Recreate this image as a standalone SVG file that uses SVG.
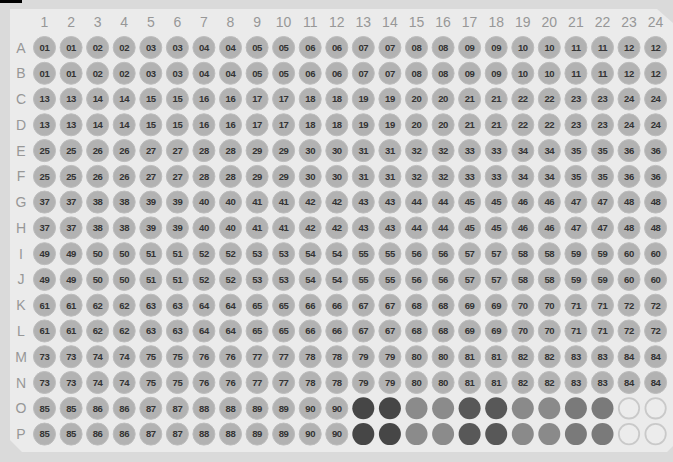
<svg xmlns="http://www.w3.org/2000/svg" width="673" height="462" viewBox="0 0 673 462">
<style>
.w{fill:#b2b2b2;stroke:#bdbdbd;stroke-width:1}
.t{font-family:"Liberation Sans",Arial,sans-serif;font-size:9.5px;font-weight:bold;fill:#333;text-anchor:middle;letter-spacing:-0.4px}
.lb{font-family:"Liberation Sans",Arial,sans-serif;font-size:14px;fill:#979797;text-anchor:middle}
.d1{fill:#464646}.m1{fill:#8b8b8b}.d2{fill:#585858}.m2{fill:#8a8a8a}.m3{fill:#7a7a7a}
.e{fill:#ececec;stroke:#c9c9c9;stroke-width:1.8}
</style>
<rect x="0" y="0" width="673" height="462" fill="#dadada"/>
<polygon points="10,9 657,9 673,23 673,446 667,452 22,452 10,440" fill="#ebebeb"/>
<rect x="0" y="0" width="22" height="3" fill="#000"/>
<g id="col-labels">
<text class="lb" x="44.5" y="27">1</text><text class="lb" x="71.1" y="27">2</text><text class="lb" x="97.6" y="27">3</text><text class="lb" x="124.2" y="27">4</text><text class="lb" x="150.8" y="27">5</text><text class="lb" x="177.4" y="27">6</text><text class="lb" x="203.9" y="27">7</text><text class="lb" x="230.5" y="27">8</text><text class="lb" x="257.1" y="27">9</text><text class="lb" x="283.6" y="27">10</text><text class="lb" x="310.2" y="27">11</text><text class="lb" x="336.8" y="27">12</text><text class="lb" x="363.3" y="27">13</text><text class="lb" x="389.9" y="27">14</text><text class="lb" x="416.5" y="27">15</text><text class="lb" x="443.1" y="27">16</text><text class="lb" x="469.6" y="27">17</text><text class="lb" x="496.2" y="27">18</text><text class="lb" x="522.8" y="27">19</text><text class="lb" x="549.3" y="27">20</text><text class="lb" x="575.9" y="27">21</text><text class="lb" x="602.5" y="27">22</text><text class="lb" x="629" y="27">23</text><text class="lb" x="655.6" y="27">24</text>
</g>
<g id="row-labels">
<text class="lb" x="21" y="52.5">A</text><text class="lb" x="21" y="78.3">B</text><text class="lb" x="21" y="104">C</text><text class="lb" x="21" y="129.8">D</text><text class="lb" x="21" y="155.6">E</text><text class="lb" x="21" y="181.4">F</text><text class="lb" x="21" y="207.1">G</text><text class="lb" x="21" y="232.9">H</text><text class="lb" x="21" y="258.7">I</text><text class="lb" x="21" y="284.4">J</text><text class="lb" x="21" y="310.2">K</text><text class="lb" x="21" y="336">L</text><text class="lb" x="21" y="361.7">M</text><text class="lb" x="21" y="387.5">N</text><text class="lb" x="21" y="413.3">O</text><text class="lb" x="21" y="439.1">P</text>
</g>
<g id="connectors"></g>
<g id="row-A" transform="translate(0 47.5)">
<g id="A1" transform="translate(44.5)"><circle class="w" r="11"/><text class="t" y="3.3">01</text></g>
<g id="A2" transform="translate(71.1)"><circle class="w" r="11"/><text class="t" y="3.3">01</text></g>
<g id="A3" transform="translate(97.6)"><circle class="w" r="11"/><text class="t" y="3.3">02</text></g>
<g id="A4" transform="translate(124.2)"><circle class="w" r="11"/><text class="t" y="3.3">02</text></g>
<g id="A5" transform="translate(150.8)"><circle class="w" r="11"/><text class="t" y="3.3">03</text></g>
<g id="A6" transform="translate(177.4)"><circle class="w" r="11"/><text class="t" y="3.3">03</text></g>
<g id="A7" transform="translate(203.9)"><circle class="w" r="11"/><text class="t" y="3.3">04</text></g>
<g id="A8" transform="translate(230.5)"><circle class="w" r="11"/><text class="t" y="3.3">04</text></g>
<g id="A9" transform="translate(257.1)"><circle class="w" r="11"/><text class="t" y="3.3">05</text></g>
<g id="A10" transform="translate(283.6)"><circle class="w" r="11"/><text class="t" y="3.3">05</text></g>
<g id="A11" transform="translate(310.2)"><circle class="w" r="11"/><text class="t" y="3.3">06</text></g>
<g id="A12" transform="translate(336.8)"><circle class="w" r="11"/><text class="t" y="3.3">06</text></g>
<g id="A13" transform="translate(363.3)"><circle class="w" r="11"/><text class="t" y="3.3">07</text></g>
<g id="A14" transform="translate(389.9)"><circle class="w" r="11"/><text class="t" y="3.3">07</text></g>
<g id="A15" transform="translate(416.5)"><circle class="w" r="11"/><text class="t" y="3.3">08</text></g>
<g id="A16" transform="translate(443.1)"><circle class="w" r="11"/><text class="t" y="3.3">08</text></g>
<g id="A17" transform="translate(469.6)"><circle class="w" r="11"/><text class="t" y="3.3">09</text></g>
<g id="A18" transform="translate(496.2)"><circle class="w" r="11"/><text class="t" y="3.3">09</text></g>
<g id="A19" transform="translate(522.8)"><circle class="w" r="11"/><text class="t" y="3.3">10</text></g>
<g id="A20" transform="translate(549.3)"><circle class="w" r="11"/><text class="t" y="3.3">10</text></g>
<g id="A21" transform="translate(575.9)"><circle class="w" r="11"/><text class="t" y="3.3">11</text></g>
<g id="A22" transform="translate(602.5)"><circle class="w" r="11"/><text class="t" y="3.3">11</text></g>
<g id="A23" transform="translate(629)"><circle class="w" r="11"/><text class="t" y="3.3">12</text></g>
<g id="A24" transform="translate(655.6)"><circle class="w" r="11"/><text class="t" y="3.3">12</text></g>
</g>
<g id="row-B" transform="translate(0 73.3)">
<g id="B1" transform="translate(44.5)"><circle class="w" r="11"/><text class="t" y="3.3">01</text></g>
<g id="B2" transform="translate(71.1)"><circle class="w" r="11"/><text class="t" y="3.3">01</text></g>
<g id="B3" transform="translate(97.6)"><circle class="w" r="11"/><text class="t" y="3.3">02</text></g>
<g id="B4" transform="translate(124.2)"><circle class="w" r="11"/><text class="t" y="3.3">02</text></g>
<g id="B5" transform="translate(150.8)"><circle class="w" r="11"/><text class="t" y="3.3">03</text></g>
<g id="B6" transform="translate(177.4)"><circle class="w" r="11"/><text class="t" y="3.3">03</text></g>
<g id="B7" transform="translate(203.9)"><circle class="w" r="11"/><text class="t" y="3.3">04</text></g>
<g id="B8" transform="translate(230.5)"><circle class="w" r="11"/><text class="t" y="3.3">04</text></g>
<g id="B9" transform="translate(257.1)"><circle class="w" r="11"/><text class="t" y="3.3">05</text></g>
<g id="B10" transform="translate(283.6)"><circle class="w" r="11"/><text class="t" y="3.3">05</text></g>
<g id="B11" transform="translate(310.2)"><circle class="w" r="11"/><text class="t" y="3.3">06</text></g>
<g id="B12" transform="translate(336.8)"><circle class="w" r="11"/><text class="t" y="3.3">06</text></g>
<g id="B13" transform="translate(363.3)"><circle class="w" r="11"/><text class="t" y="3.3">07</text></g>
<g id="B14" transform="translate(389.9)"><circle class="w" r="11"/><text class="t" y="3.3">07</text></g>
<g id="B15" transform="translate(416.5)"><circle class="w" r="11"/><text class="t" y="3.3">08</text></g>
<g id="B16" transform="translate(443.1)"><circle class="w" r="11"/><text class="t" y="3.3">08</text></g>
<g id="B17" transform="translate(469.6)"><circle class="w" r="11"/><text class="t" y="3.3">09</text></g>
<g id="B18" transform="translate(496.2)"><circle class="w" r="11"/><text class="t" y="3.3">09</text></g>
<g id="B19" transform="translate(522.8)"><circle class="w" r="11"/><text class="t" y="3.3">10</text></g>
<g id="B20" transform="translate(549.3)"><circle class="w" r="11"/><text class="t" y="3.3">10</text></g>
<g id="B21" transform="translate(575.9)"><circle class="w" r="11"/><text class="t" y="3.3">11</text></g>
<g id="B22" transform="translate(602.5)"><circle class="w" r="11"/><text class="t" y="3.3">11</text></g>
<g id="B23" transform="translate(629)"><circle class="w" r="11"/><text class="t" y="3.3">12</text></g>
<g id="B24" transform="translate(655.6)"><circle class="w" r="11"/><text class="t" y="3.3">12</text></g>
</g>
<g id="row-C" transform="translate(0 99)">
<g id="C1" transform="translate(44.5)"><circle class="w" r="11"/><text class="t" y="3.3">13</text></g>
<g id="C2" transform="translate(71.1)"><circle class="w" r="11"/><text class="t" y="3.3">13</text></g>
<g id="C3" transform="translate(97.6)"><circle class="w" r="11"/><text class="t" y="3.3">14</text></g>
<g id="C4" transform="translate(124.2)"><circle class="w" r="11"/><text class="t" y="3.3">14</text></g>
<g id="C5" transform="translate(150.8)"><circle class="w" r="11"/><text class="t" y="3.3">15</text></g>
<g id="C6" transform="translate(177.4)"><circle class="w" r="11"/><text class="t" y="3.3">15</text></g>
<g id="C7" transform="translate(203.9)"><circle class="w" r="11"/><text class="t" y="3.3">16</text></g>
<g id="C8" transform="translate(230.5)"><circle class="w" r="11"/><text class="t" y="3.3">16</text></g>
<g id="C9" transform="translate(257.1)"><circle class="w" r="11"/><text class="t" y="3.3">17</text></g>
<g id="C10" transform="translate(283.6)"><circle class="w" r="11"/><text class="t" y="3.3">17</text></g>
<g id="C11" transform="translate(310.2)"><circle class="w" r="11"/><text class="t" y="3.3">18</text></g>
<g id="C12" transform="translate(336.8)"><circle class="w" r="11"/><text class="t" y="3.3">18</text></g>
<g id="C13" transform="translate(363.3)"><circle class="w" r="11"/><text class="t" y="3.3">19</text></g>
<g id="C14" transform="translate(389.9)"><circle class="w" r="11"/><text class="t" y="3.3">19</text></g>
<g id="C15" transform="translate(416.5)"><circle class="w" r="11"/><text class="t" y="3.3">20</text></g>
<g id="C16" transform="translate(443.1)"><circle class="w" r="11"/><text class="t" y="3.3">20</text></g>
<g id="C17" transform="translate(469.6)"><circle class="w" r="11"/><text class="t" y="3.3">21</text></g>
<g id="C18" transform="translate(496.2)"><circle class="w" r="11"/><text class="t" y="3.3">21</text></g>
<g id="C19" transform="translate(522.8)"><circle class="w" r="11"/><text class="t" y="3.3">22</text></g>
<g id="C20" transform="translate(549.3)"><circle class="w" r="11"/><text class="t" y="3.3">22</text></g>
<g id="C21" transform="translate(575.9)"><circle class="w" r="11"/><text class="t" y="3.3">23</text></g>
<g id="C22" transform="translate(602.5)"><circle class="w" r="11"/><text class="t" y="3.3">23</text></g>
<g id="C23" transform="translate(629)"><circle class="w" r="11"/><text class="t" y="3.3">24</text></g>
<g id="C24" transform="translate(655.6)"><circle class="w" r="11"/><text class="t" y="3.3">24</text></g>
</g>
<g id="row-D" transform="translate(0 124.8)">
<g id="D1" transform="translate(44.5)"><circle class="w" r="11"/><text class="t" y="3.3">13</text></g>
<g id="D2" transform="translate(71.1)"><circle class="w" r="11"/><text class="t" y="3.3">13</text></g>
<g id="D3" transform="translate(97.6)"><circle class="w" r="11"/><text class="t" y="3.3">14</text></g>
<g id="D4" transform="translate(124.2)"><circle class="w" r="11"/><text class="t" y="3.3">14</text></g>
<g id="D5" transform="translate(150.8)"><circle class="w" r="11"/><text class="t" y="3.3">15</text></g>
<g id="D6" transform="translate(177.4)"><circle class="w" r="11"/><text class="t" y="3.3">15</text></g>
<g id="D7" transform="translate(203.9)"><circle class="w" r="11"/><text class="t" y="3.3">16</text></g>
<g id="D8" transform="translate(230.5)"><circle class="w" r="11"/><text class="t" y="3.3">16</text></g>
<g id="D9" transform="translate(257.1)"><circle class="w" r="11"/><text class="t" y="3.3">17</text></g>
<g id="D10" transform="translate(283.6)"><circle class="w" r="11"/><text class="t" y="3.3">17</text></g>
<g id="D11" transform="translate(310.2)"><circle class="w" r="11"/><text class="t" y="3.3">18</text></g>
<g id="D12" transform="translate(336.8)"><circle class="w" r="11"/><text class="t" y="3.3">18</text></g>
<g id="D13" transform="translate(363.3)"><circle class="w" r="11"/><text class="t" y="3.3">19</text></g>
<g id="D14" transform="translate(389.9)"><circle class="w" r="11"/><text class="t" y="3.3">19</text></g>
<g id="D15" transform="translate(416.5)"><circle class="w" r="11"/><text class="t" y="3.3">20</text></g>
<g id="D16" transform="translate(443.1)"><circle class="w" r="11"/><text class="t" y="3.3">20</text></g>
<g id="D17" transform="translate(469.6)"><circle class="w" r="11"/><text class="t" y="3.3">21</text></g>
<g id="D18" transform="translate(496.2)"><circle class="w" r="11"/><text class="t" y="3.3">21</text></g>
<g id="D19" transform="translate(522.8)"><circle class="w" r="11"/><text class="t" y="3.3">22</text></g>
<g id="D20" transform="translate(549.3)"><circle class="w" r="11"/><text class="t" y="3.3">22</text></g>
<g id="D21" transform="translate(575.9)"><circle class="w" r="11"/><text class="t" y="3.3">23</text></g>
<g id="D22" transform="translate(602.5)"><circle class="w" r="11"/><text class="t" y="3.3">23</text></g>
<g id="D23" transform="translate(629)"><circle class="w" r="11"/><text class="t" y="3.3">24</text></g>
<g id="D24" transform="translate(655.6)"><circle class="w" r="11"/><text class="t" y="3.3">24</text></g>
</g>
<g id="row-E" transform="translate(0 150.6)">
<g id="E1" transform="translate(44.5)"><circle class="w" r="11"/><text class="t" y="3.3">25</text></g>
<g id="E2" transform="translate(71.1)"><circle class="w" r="11"/><text class="t" y="3.3">25</text></g>
<g id="E3" transform="translate(97.6)"><circle class="w" r="11"/><text class="t" y="3.3">26</text></g>
<g id="E4" transform="translate(124.2)"><circle class="w" r="11"/><text class="t" y="3.3">26</text></g>
<g id="E5" transform="translate(150.8)"><circle class="w" r="11"/><text class="t" y="3.3">27</text></g>
<g id="E6" transform="translate(177.4)"><circle class="w" r="11"/><text class="t" y="3.3">27</text></g>
<g id="E7" transform="translate(203.9)"><circle class="w" r="11"/><text class="t" y="3.3">28</text></g>
<g id="E8" transform="translate(230.5)"><circle class="w" r="11"/><text class="t" y="3.3">28</text></g>
<g id="E9" transform="translate(257.1)"><circle class="w" r="11"/><text class="t" y="3.3">29</text></g>
<g id="E10" transform="translate(283.6)"><circle class="w" r="11"/><text class="t" y="3.3">29</text></g>
<g id="E11" transform="translate(310.2)"><circle class="w" r="11"/><text class="t" y="3.3">30</text></g>
<g id="E12" transform="translate(336.8)"><circle class="w" r="11"/><text class="t" y="3.3">30</text></g>
<g id="E13" transform="translate(363.3)"><circle class="w" r="11"/><text class="t" y="3.3">31</text></g>
<g id="E14" transform="translate(389.9)"><circle class="w" r="11"/><text class="t" y="3.3">31</text></g>
<g id="E15" transform="translate(416.5)"><circle class="w" r="11"/><text class="t" y="3.3">32</text></g>
<g id="E16" transform="translate(443.1)"><circle class="w" r="11"/><text class="t" y="3.3">32</text></g>
<g id="E17" transform="translate(469.6)"><circle class="w" r="11"/><text class="t" y="3.3">33</text></g>
<g id="E18" transform="translate(496.2)"><circle class="w" r="11"/><text class="t" y="3.3">33</text></g>
<g id="E19" transform="translate(522.8)"><circle class="w" r="11"/><text class="t" y="3.3">34</text></g>
<g id="E20" transform="translate(549.3)"><circle class="w" r="11"/><text class="t" y="3.3">34</text></g>
<g id="E21" transform="translate(575.9)"><circle class="w" r="11"/><text class="t" y="3.3">35</text></g>
<g id="E22" transform="translate(602.5)"><circle class="w" r="11"/><text class="t" y="3.3">35</text></g>
<g id="E23" transform="translate(629)"><circle class="w" r="11"/><text class="t" y="3.3">36</text></g>
<g id="E24" transform="translate(655.6)"><circle class="w" r="11"/><text class="t" y="3.3">36</text></g>
</g>
<g id="row-F" transform="translate(0 176.4)">
<g id="F1" transform="translate(44.5)"><circle class="w" r="11"/><text class="t" y="3.3">25</text></g>
<g id="F2" transform="translate(71.1)"><circle class="w" r="11"/><text class="t" y="3.3">25</text></g>
<g id="F3" transform="translate(97.6)"><circle class="w" r="11"/><text class="t" y="3.3">26</text></g>
<g id="F4" transform="translate(124.2)"><circle class="w" r="11"/><text class="t" y="3.3">26</text></g>
<g id="F5" transform="translate(150.8)"><circle class="w" r="11"/><text class="t" y="3.3">27</text></g>
<g id="F6" transform="translate(177.4)"><circle class="w" r="11"/><text class="t" y="3.3">27</text></g>
<g id="F7" transform="translate(203.9)"><circle class="w" r="11"/><text class="t" y="3.3">28</text></g>
<g id="F8" transform="translate(230.5)"><circle class="w" r="11"/><text class="t" y="3.3">28</text></g>
<g id="F9" transform="translate(257.1)"><circle class="w" r="11"/><text class="t" y="3.3">29</text></g>
<g id="F10" transform="translate(283.6)"><circle class="w" r="11"/><text class="t" y="3.3">29</text></g>
<g id="F11" transform="translate(310.2)"><circle class="w" r="11"/><text class="t" y="3.3">30</text></g>
<g id="F12" transform="translate(336.8)"><circle class="w" r="11"/><text class="t" y="3.3">30</text></g>
<g id="F13" transform="translate(363.3)"><circle class="w" r="11"/><text class="t" y="3.3">31</text></g>
<g id="F14" transform="translate(389.9)"><circle class="w" r="11"/><text class="t" y="3.3">31</text></g>
<g id="F15" transform="translate(416.5)"><circle class="w" r="11"/><text class="t" y="3.3">32</text></g>
<g id="F16" transform="translate(443.1)"><circle class="w" r="11"/><text class="t" y="3.3">32</text></g>
<g id="F17" transform="translate(469.6)"><circle class="w" r="11"/><text class="t" y="3.3">33</text></g>
<g id="F18" transform="translate(496.2)"><circle class="w" r="11"/><text class="t" y="3.3">33</text></g>
<g id="F19" transform="translate(522.8)"><circle class="w" r="11"/><text class="t" y="3.3">34</text></g>
<g id="F20" transform="translate(549.3)"><circle class="w" r="11"/><text class="t" y="3.3">34</text></g>
<g id="F21" transform="translate(575.9)"><circle class="w" r="11"/><text class="t" y="3.3">35</text></g>
<g id="F22" transform="translate(602.5)"><circle class="w" r="11"/><text class="t" y="3.3">35</text></g>
<g id="F23" transform="translate(629)"><circle class="w" r="11"/><text class="t" y="3.3">36</text></g>
<g id="F24" transform="translate(655.6)"><circle class="w" r="11"/><text class="t" y="3.3">36</text></g>
</g>
<g id="row-G" transform="translate(0 202.1)">
<g id="G1" transform="translate(44.5)"><circle class="w" r="11"/><text class="t" y="3.3">37</text></g>
<g id="G2" transform="translate(71.1)"><circle class="w" r="11"/><text class="t" y="3.3">37</text></g>
<g id="G3" transform="translate(97.6)"><circle class="w" r="11"/><text class="t" y="3.3">38</text></g>
<g id="G4" transform="translate(124.2)"><circle class="w" r="11"/><text class="t" y="3.3">38</text></g>
<g id="G5" transform="translate(150.8)"><circle class="w" r="11"/><text class="t" y="3.3">39</text></g>
<g id="G6" transform="translate(177.4)"><circle class="w" r="11"/><text class="t" y="3.3">39</text></g>
<g id="G7" transform="translate(203.9)"><circle class="w" r="11"/><text class="t" y="3.3">40</text></g>
<g id="G8" transform="translate(230.5)"><circle class="w" r="11"/><text class="t" y="3.3">40</text></g>
<g id="G9" transform="translate(257.1)"><circle class="w" r="11"/><text class="t" y="3.3">41</text></g>
<g id="G10" transform="translate(283.6)"><circle class="w" r="11"/><text class="t" y="3.3">41</text></g>
<g id="G11" transform="translate(310.2)"><circle class="w" r="11"/><text class="t" y="3.3">42</text></g>
<g id="G12" transform="translate(336.8)"><circle class="w" r="11"/><text class="t" y="3.3">42</text></g>
<g id="G13" transform="translate(363.3)"><circle class="w" r="11"/><text class="t" y="3.3">43</text></g>
<g id="G14" transform="translate(389.9)"><circle class="w" r="11"/><text class="t" y="3.3">43</text></g>
<g id="G15" transform="translate(416.5)"><circle class="w" r="11"/><text class="t" y="3.3">44</text></g>
<g id="G16" transform="translate(443.1)"><circle class="w" r="11"/><text class="t" y="3.3">44</text></g>
<g id="G17" transform="translate(469.6)"><circle class="w" r="11"/><text class="t" y="3.3">45</text></g>
<g id="G18" transform="translate(496.2)"><circle class="w" r="11"/><text class="t" y="3.3">45</text></g>
<g id="G19" transform="translate(522.8)"><circle class="w" r="11"/><text class="t" y="3.3">46</text></g>
<g id="G20" transform="translate(549.3)"><circle class="w" r="11"/><text class="t" y="3.3">46</text></g>
<g id="G21" transform="translate(575.9)"><circle class="w" r="11"/><text class="t" y="3.3">47</text></g>
<g id="G22" transform="translate(602.5)"><circle class="w" r="11"/><text class="t" y="3.3">47</text></g>
<g id="G23" transform="translate(629)"><circle class="w" r="11"/><text class="t" y="3.3">48</text></g>
<g id="G24" transform="translate(655.6)"><circle class="w" r="11"/><text class="t" y="3.3">48</text></g>
</g>
<g id="row-H" transform="translate(0 227.9)">
<g id="H1" transform="translate(44.5)"><circle class="w" r="11"/><text class="t" y="3.3">37</text></g>
<g id="H2" transform="translate(71.1)"><circle class="w" r="11"/><text class="t" y="3.3">37</text></g>
<g id="H3" transform="translate(97.6)"><circle class="w" r="11"/><text class="t" y="3.3">38</text></g>
<g id="H4" transform="translate(124.2)"><circle class="w" r="11"/><text class="t" y="3.3">38</text></g>
<g id="H5" transform="translate(150.8)"><circle class="w" r="11"/><text class="t" y="3.3">39</text></g>
<g id="H6" transform="translate(177.4)"><circle class="w" r="11"/><text class="t" y="3.3">39</text></g>
<g id="H7" transform="translate(203.9)"><circle class="w" r="11"/><text class="t" y="3.3">40</text></g>
<g id="H8" transform="translate(230.5)"><circle class="w" r="11"/><text class="t" y="3.3">40</text></g>
<g id="H9" transform="translate(257.1)"><circle class="w" r="11"/><text class="t" y="3.3">41</text></g>
<g id="H10" transform="translate(283.6)"><circle class="w" r="11"/><text class="t" y="3.3">41</text></g>
<g id="H11" transform="translate(310.2)"><circle class="w" r="11"/><text class="t" y="3.3">42</text></g>
<g id="H12" transform="translate(336.8)"><circle class="w" r="11"/><text class="t" y="3.3">42</text></g>
<g id="H13" transform="translate(363.3)"><circle class="w" r="11"/><text class="t" y="3.3">43</text></g>
<g id="H14" transform="translate(389.9)"><circle class="w" r="11"/><text class="t" y="3.3">43</text></g>
<g id="H15" transform="translate(416.5)"><circle class="w" r="11"/><text class="t" y="3.3">44</text></g>
<g id="H16" transform="translate(443.1)"><circle class="w" r="11"/><text class="t" y="3.3">44</text></g>
<g id="H17" transform="translate(469.6)"><circle class="w" r="11"/><text class="t" y="3.3">45</text></g>
<g id="H18" transform="translate(496.2)"><circle class="w" r="11"/><text class="t" y="3.3">45</text></g>
<g id="H19" transform="translate(522.8)"><circle class="w" r="11"/><text class="t" y="3.3">46</text></g>
<g id="H20" transform="translate(549.3)"><circle class="w" r="11"/><text class="t" y="3.3">46</text></g>
<g id="H21" transform="translate(575.9)"><circle class="w" r="11"/><text class="t" y="3.3">47</text></g>
<g id="H22" transform="translate(602.5)"><circle class="w" r="11"/><text class="t" y="3.3">47</text></g>
<g id="H23" transform="translate(629)"><circle class="w" r="11"/><text class="t" y="3.3">48</text></g>
<g id="H24" transform="translate(655.6)"><circle class="w" r="11"/><text class="t" y="3.3">48</text></g>
</g>
<g id="row-I" transform="translate(0 253.7)">
<g id="I1" transform="translate(44.5)"><circle class="w" r="11"/><text class="t" y="3.3">49</text></g>
<g id="I2" transform="translate(71.1)"><circle class="w" r="11"/><text class="t" y="3.3">49</text></g>
<g id="I3" transform="translate(97.6)"><circle class="w" r="11"/><text class="t" y="3.3">50</text></g>
<g id="I4" transform="translate(124.2)"><circle class="w" r="11"/><text class="t" y="3.3">50</text></g>
<g id="I5" transform="translate(150.8)"><circle class="w" r="11"/><text class="t" y="3.3">51</text></g>
<g id="I6" transform="translate(177.4)"><circle class="w" r="11"/><text class="t" y="3.3">51</text></g>
<g id="I7" transform="translate(203.9)"><circle class="w" r="11"/><text class="t" y="3.3">52</text></g>
<g id="I8" transform="translate(230.5)"><circle class="w" r="11"/><text class="t" y="3.3">52</text></g>
<g id="I9" transform="translate(257.1)"><circle class="w" r="11"/><text class="t" y="3.3">53</text></g>
<g id="I10" transform="translate(283.6)"><circle class="w" r="11"/><text class="t" y="3.3">53</text></g>
<g id="I11" transform="translate(310.2)"><circle class="w" r="11"/><text class="t" y="3.3">54</text></g>
<g id="I12" transform="translate(336.8)"><circle class="w" r="11"/><text class="t" y="3.3">54</text></g>
<g id="I13" transform="translate(363.3)"><circle class="w" r="11"/><text class="t" y="3.3">55</text></g>
<g id="I14" transform="translate(389.9)"><circle class="w" r="11"/><text class="t" y="3.3">55</text></g>
<g id="I15" transform="translate(416.5)"><circle class="w" r="11"/><text class="t" y="3.3">56</text></g>
<g id="I16" transform="translate(443.1)"><circle class="w" r="11"/><text class="t" y="3.3">56</text></g>
<g id="I17" transform="translate(469.6)"><circle class="w" r="11"/><text class="t" y="3.3">57</text></g>
<g id="I18" transform="translate(496.2)"><circle class="w" r="11"/><text class="t" y="3.3">57</text></g>
<g id="I19" transform="translate(522.8)"><circle class="w" r="11"/><text class="t" y="3.3">58</text></g>
<g id="I20" transform="translate(549.3)"><circle class="w" r="11"/><text class="t" y="3.3">58</text></g>
<g id="I21" transform="translate(575.9)"><circle class="w" r="11"/><text class="t" y="3.3">59</text></g>
<g id="I22" transform="translate(602.5)"><circle class="w" r="11"/><text class="t" y="3.3">59</text></g>
<g id="I23" transform="translate(629)"><circle class="w" r="11"/><text class="t" y="3.3">60</text></g>
<g id="I24" transform="translate(655.6)"><circle class="w" r="11"/><text class="t" y="3.3">60</text></g>
</g>
<g id="row-J" transform="translate(0 279.4)">
<g id="J1" transform="translate(44.5)"><circle class="w" r="11"/><text class="t" y="3.3">49</text></g>
<g id="J2" transform="translate(71.1)"><circle class="w" r="11"/><text class="t" y="3.3">49</text></g>
<g id="J3" transform="translate(97.6)"><circle class="w" r="11"/><text class="t" y="3.3">50</text></g>
<g id="J4" transform="translate(124.2)"><circle class="w" r="11"/><text class="t" y="3.3">50</text></g>
<g id="J5" transform="translate(150.8)"><circle class="w" r="11"/><text class="t" y="3.3">51</text></g>
<g id="J6" transform="translate(177.4)"><circle class="w" r="11"/><text class="t" y="3.3">51</text></g>
<g id="J7" transform="translate(203.9)"><circle class="w" r="11"/><text class="t" y="3.3">52</text></g>
<g id="J8" transform="translate(230.5)"><circle class="w" r="11"/><text class="t" y="3.3">52</text></g>
<g id="J9" transform="translate(257.1)"><circle class="w" r="11"/><text class="t" y="3.3">53</text></g>
<g id="J10" transform="translate(283.6)"><circle class="w" r="11"/><text class="t" y="3.3">53</text></g>
<g id="J11" transform="translate(310.2)"><circle class="w" r="11"/><text class="t" y="3.3">54</text></g>
<g id="J12" transform="translate(336.8)"><circle class="w" r="11"/><text class="t" y="3.3">54</text></g>
<g id="J13" transform="translate(363.3)"><circle class="w" r="11"/><text class="t" y="3.3">55</text></g>
<g id="J14" transform="translate(389.9)"><circle class="w" r="11"/><text class="t" y="3.3">55</text></g>
<g id="J15" transform="translate(416.5)"><circle class="w" r="11"/><text class="t" y="3.3">56</text></g>
<g id="J16" transform="translate(443.1)"><circle class="w" r="11"/><text class="t" y="3.3">56</text></g>
<g id="J17" transform="translate(469.6)"><circle class="w" r="11"/><text class="t" y="3.3">57</text></g>
<g id="J18" transform="translate(496.2)"><circle class="w" r="11"/><text class="t" y="3.3">57</text></g>
<g id="J19" transform="translate(522.8)"><circle class="w" r="11"/><text class="t" y="3.3">58</text></g>
<g id="J20" transform="translate(549.3)"><circle class="w" r="11"/><text class="t" y="3.3">58</text></g>
<g id="J21" transform="translate(575.9)"><circle class="w" r="11"/><text class="t" y="3.3">59</text></g>
<g id="J22" transform="translate(602.5)"><circle class="w" r="11"/><text class="t" y="3.3">59</text></g>
<g id="J23" transform="translate(629)"><circle class="w" r="11"/><text class="t" y="3.3">60</text></g>
<g id="J24" transform="translate(655.6)"><circle class="w" r="11"/><text class="t" y="3.3">60</text></g>
</g>
<g id="row-K" transform="translate(0 305.2)">
<g id="K1" transform="translate(44.5)"><circle class="w" r="11"/><text class="t" y="3.3">61</text></g>
<g id="K2" transform="translate(71.1)"><circle class="w" r="11"/><text class="t" y="3.3">61</text></g>
<g id="K3" transform="translate(97.6)"><circle class="w" r="11"/><text class="t" y="3.3">62</text></g>
<g id="K4" transform="translate(124.2)"><circle class="w" r="11"/><text class="t" y="3.3">62</text></g>
<g id="K5" transform="translate(150.8)"><circle class="w" r="11"/><text class="t" y="3.3">63</text></g>
<g id="K6" transform="translate(177.4)"><circle class="w" r="11"/><text class="t" y="3.3">63</text></g>
<g id="K7" transform="translate(203.9)"><circle class="w" r="11"/><text class="t" y="3.3">64</text></g>
<g id="K8" transform="translate(230.5)"><circle class="w" r="11"/><text class="t" y="3.3">64</text></g>
<g id="K9" transform="translate(257.1)"><circle class="w" r="11"/><text class="t" y="3.3">65</text></g>
<g id="K10" transform="translate(283.6)"><circle class="w" r="11"/><text class="t" y="3.3">65</text></g>
<g id="K11" transform="translate(310.2)"><circle class="w" r="11"/><text class="t" y="3.3">66</text></g>
<g id="K12" transform="translate(336.8)"><circle class="w" r="11"/><text class="t" y="3.3">66</text></g>
<g id="K13" transform="translate(363.3)"><circle class="w" r="11"/><text class="t" y="3.3">67</text></g>
<g id="K14" transform="translate(389.9)"><circle class="w" r="11"/><text class="t" y="3.3">67</text></g>
<g id="K15" transform="translate(416.5)"><circle class="w" r="11"/><text class="t" y="3.3">68</text></g>
<g id="K16" transform="translate(443.1)"><circle class="w" r="11"/><text class="t" y="3.3">68</text></g>
<g id="K17" transform="translate(469.6)"><circle class="w" r="11"/><text class="t" y="3.3">69</text></g>
<g id="K18" transform="translate(496.2)"><circle class="w" r="11"/><text class="t" y="3.3">69</text></g>
<g id="K19" transform="translate(522.8)"><circle class="w" r="11"/><text class="t" y="3.3">70</text></g>
<g id="K20" transform="translate(549.3)"><circle class="w" r="11"/><text class="t" y="3.3">70</text></g>
<g id="K21" transform="translate(575.9)"><circle class="w" r="11"/><text class="t" y="3.3">71</text></g>
<g id="K22" transform="translate(602.5)"><circle class="w" r="11"/><text class="t" y="3.3">71</text></g>
<g id="K23" transform="translate(629)"><circle class="w" r="11"/><text class="t" y="3.3">72</text></g>
<g id="K24" transform="translate(655.6)"><circle class="w" r="11"/><text class="t" y="3.3">72</text></g>
</g>
<g id="row-L" transform="translate(0 331)">
<g id="L1" transform="translate(44.5)"><circle class="w" r="11"/><text class="t" y="3.3">61</text></g>
<g id="L2" transform="translate(71.1)"><circle class="w" r="11"/><text class="t" y="3.3">61</text></g>
<g id="L3" transform="translate(97.6)"><circle class="w" r="11"/><text class="t" y="3.3">62</text></g>
<g id="L4" transform="translate(124.2)"><circle class="w" r="11"/><text class="t" y="3.3">62</text></g>
<g id="L5" transform="translate(150.8)"><circle class="w" r="11"/><text class="t" y="3.3">63</text></g>
<g id="L6" transform="translate(177.4)"><circle class="w" r="11"/><text class="t" y="3.3">63</text></g>
<g id="L7" transform="translate(203.9)"><circle class="w" r="11"/><text class="t" y="3.3">64</text></g>
<g id="L8" transform="translate(230.5)"><circle class="w" r="11"/><text class="t" y="3.3">64</text></g>
<g id="L9" transform="translate(257.1)"><circle class="w" r="11"/><text class="t" y="3.3">65</text></g>
<g id="L10" transform="translate(283.6)"><circle class="w" r="11"/><text class="t" y="3.3">65</text></g>
<g id="L11" transform="translate(310.2)"><circle class="w" r="11"/><text class="t" y="3.3">66</text></g>
<g id="L12" transform="translate(336.8)"><circle class="w" r="11"/><text class="t" y="3.3">66</text></g>
<g id="L13" transform="translate(363.3)"><circle class="w" r="11"/><text class="t" y="3.3">67</text></g>
<g id="L14" transform="translate(389.9)"><circle class="w" r="11"/><text class="t" y="3.3">67</text></g>
<g id="L15" transform="translate(416.5)"><circle class="w" r="11"/><text class="t" y="3.3">68</text></g>
<g id="L16" transform="translate(443.1)"><circle class="w" r="11"/><text class="t" y="3.3">68</text></g>
<g id="L17" transform="translate(469.6)"><circle class="w" r="11"/><text class="t" y="3.3">69</text></g>
<g id="L18" transform="translate(496.2)"><circle class="w" r="11"/><text class="t" y="3.3">69</text></g>
<g id="L19" transform="translate(522.8)"><circle class="w" r="11"/><text class="t" y="3.3">70</text></g>
<g id="L20" transform="translate(549.3)"><circle class="w" r="11"/><text class="t" y="3.3">70</text></g>
<g id="L21" transform="translate(575.9)"><circle class="w" r="11"/><text class="t" y="3.3">71</text></g>
<g id="L22" transform="translate(602.5)"><circle class="w" r="11"/><text class="t" y="3.3">71</text></g>
<g id="L23" transform="translate(629)"><circle class="w" r="11"/><text class="t" y="3.3">72</text></g>
<g id="L24" transform="translate(655.6)"><circle class="w" r="11"/><text class="t" y="3.3">72</text></g>
</g>
<g id="row-M" transform="translate(0 356.7)">
<g id="M1" transform="translate(44.5)"><circle class="w" r="11"/><text class="t" y="3.3">73</text></g>
<g id="M2" transform="translate(71.1)"><circle class="w" r="11"/><text class="t" y="3.3">73</text></g>
<g id="M3" transform="translate(97.6)"><circle class="w" r="11"/><text class="t" y="3.3">74</text></g>
<g id="M4" transform="translate(124.2)"><circle class="w" r="11"/><text class="t" y="3.3">74</text></g>
<g id="M5" transform="translate(150.8)"><circle class="w" r="11"/><text class="t" y="3.3">75</text></g>
<g id="M6" transform="translate(177.4)"><circle class="w" r="11"/><text class="t" y="3.3">75</text></g>
<g id="M7" transform="translate(203.9)"><circle class="w" r="11"/><text class="t" y="3.3">76</text></g>
<g id="M8" transform="translate(230.5)"><circle class="w" r="11"/><text class="t" y="3.3">76</text></g>
<g id="M9" transform="translate(257.1)"><circle class="w" r="11"/><text class="t" y="3.3">77</text></g>
<g id="M10" transform="translate(283.6)"><circle class="w" r="11"/><text class="t" y="3.3">77</text></g>
<g id="M11" transform="translate(310.2)"><circle class="w" r="11"/><text class="t" y="3.3">78</text></g>
<g id="M12" transform="translate(336.8)"><circle class="w" r="11"/><text class="t" y="3.3">78</text></g>
<g id="M13" transform="translate(363.3)"><circle class="w" r="11"/><text class="t" y="3.3">79</text></g>
<g id="M14" transform="translate(389.9)"><circle class="w" r="11"/><text class="t" y="3.3">79</text></g>
<g id="M15" transform="translate(416.5)"><circle class="w" r="11"/><text class="t" y="3.3">80</text></g>
<g id="M16" transform="translate(443.1)"><circle class="w" r="11"/><text class="t" y="3.3">80</text></g>
<g id="M17" transform="translate(469.6)"><circle class="w" r="11"/><text class="t" y="3.3">81</text></g>
<g id="M18" transform="translate(496.2)"><circle class="w" r="11"/><text class="t" y="3.3">81</text></g>
<g id="M19" transform="translate(522.8)"><circle class="w" r="11"/><text class="t" y="3.3">82</text></g>
<g id="M20" transform="translate(549.3)"><circle class="w" r="11"/><text class="t" y="3.3">82</text></g>
<g id="M21" transform="translate(575.9)"><circle class="w" r="11"/><text class="t" y="3.3">83</text></g>
<g id="M22" transform="translate(602.5)"><circle class="w" r="11"/><text class="t" y="3.3">83</text></g>
<g id="M23" transform="translate(629)"><circle class="w" r="11"/><text class="t" y="3.3">84</text></g>
<g id="M24" transform="translate(655.6)"><circle class="w" r="11"/><text class="t" y="3.3">84</text></g>
</g>
<g id="row-N" transform="translate(0 382.5)">
<g id="N1" transform="translate(44.5)"><circle class="w" r="11"/><text class="t" y="3.3">73</text></g>
<g id="N2" transform="translate(71.1)"><circle class="w" r="11"/><text class="t" y="3.3">73</text></g>
<g id="N3" transform="translate(97.6)"><circle class="w" r="11"/><text class="t" y="3.3">74</text></g>
<g id="N4" transform="translate(124.2)"><circle class="w" r="11"/><text class="t" y="3.3">74</text></g>
<g id="N5" transform="translate(150.8)"><circle class="w" r="11"/><text class="t" y="3.3">75</text></g>
<g id="N6" transform="translate(177.4)"><circle class="w" r="11"/><text class="t" y="3.3">75</text></g>
<g id="N7" transform="translate(203.9)"><circle class="w" r="11"/><text class="t" y="3.3">76</text></g>
<g id="N8" transform="translate(230.5)"><circle class="w" r="11"/><text class="t" y="3.3">76</text></g>
<g id="N9" transform="translate(257.1)"><circle class="w" r="11"/><text class="t" y="3.3">77</text></g>
<g id="N10" transform="translate(283.6)"><circle class="w" r="11"/><text class="t" y="3.3">77</text></g>
<g id="N11" transform="translate(310.2)"><circle class="w" r="11"/><text class="t" y="3.3">78</text></g>
<g id="N12" transform="translate(336.8)"><circle class="w" r="11"/><text class="t" y="3.3">78</text></g>
<g id="N13" transform="translate(363.3)"><circle class="w" r="11"/><text class="t" y="3.3">79</text></g>
<g id="N14" transform="translate(389.9)"><circle class="w" r="11"/><text class="t" y="3.3">79</text></g>
<g id="N15" transform="translate(416.5)"><circle class="w" r="11"/><text class="t" y="3.3">80</text></g>
<g id="N16" transform="translate(443.1)"><circle class="w" r="11"/><text class="t" y="3.3">80</text></g>
<g id="N17" transform="translate(469.6)"><circle class="w" r="11"/><text class="t" y="3.3">81</text></g>
<g id="N18" transform="translate(496.2)"><circle class="w" r="11"/><text class="t" y="3.3">81</text></g>
<g id="N19" transform="translate(522.8)"><circle class="w" r="11"/><text class="t" y="3.3">82</text></g>
<g id="N20" transform="translate(549.3)"><circle class="w" r="11"/><text class="t" y="3.3">82</text></g>
<g id="N21" transform="translate(575.9)"><circle class="w" r="11"/><text class="t" y="3.3">83</text></g>
<g id="N22" transform="translate(602.5)"><circle class="w" r="11"/><text class="t" y="3.3">83</text></g>
<g id="N23" transform="translate(629)"><circle class="w" r="11"/><text class="t" y="3.3">84</text></g>
<g id="N24" transform="translate(655.6)"><circle class="w" r="11"/><text class="t" y="3.3">84</text></g>
</g>
<g id="row-O" transform="translate(0 408.3)">
<g id="O1" transform="translate(44.5)"><circle class="w" r="11"/><text class="t" y="3.3">85</text></g>
<g id="O2" transform="translate(71.1)"><circle class="w" r="11"/><text class="t" y="3.3">85</text></g>
<g id="O3" transform="translate(97.6)"><circle class="w" r="11"/><text class="t" y="3.3">86</text></g>
<g id="O4" transform="translate(124.2)"><circle class="w" r="11"/><text class="t" y="3.3">86</text></g>
<g id="O5" transform="translate(150.8)"><circle class="w" r="11"/><text class="t" y="3.3">87</text></g>
<g id="O6" transform="translate(177.4)"><circle class="w" r="11"/><text class="t" y="3.3">87</text></g>
<g id="O7" transform="translate(203.9)"><circle class="w" r="11"/><text class="t" y="3.3">88</text></g>
<g id="O8" transform="translate(230.5)"><circle class="w" r="11"/><text class="t" y="3.3">88</text></g>
<g id="O9" transform="translate(257.1)"><circle class="w" r="11"/><text class="t" y="3.3">89</text></g>
<g id="O10" transform="translate(283.6)"><circle class="w" r="11"/><text class="t" y="3.3">89</text></g>
<g id="O11" transform="translate(310.2)"><circle class="w" r="11"/><text class="t" y="3.3">90</text></g>
<g id="O12" transform="translate(336.8)"><circle class="w" r="11"/><text class="t" y="3.3">90</text></g>
<g id="O13" transform="translate(363.3)"><circle class="d1" r="11"/></g>
<g id="O14" transform="translate(389.9)"><circle class="d1" r="11"/></g>
<g id="O15" transform="translate(416.5)"><circle class="m1" r="11"/></g>
<g id="O16" transform="translate(443.1)"><circle class="m1" r="11"/></g>
<g id="O17" transform="translate(469.6)"><circle class="d2" r="11"/></g>
<g id="O18" transform="translate(496.2)"><circle class="d2" r="11"/></g>
<g id="O19" transform="translate(522.8)"><circle class="m2" r="11"/></g>
<g id="O20" transform="translate(549.3)"><circle class="m2" r="11"/></g>
<g id="O21" transform="translate(575.9)"><circle class="m3" r="11"/></g>
<g id="O22" transform="translate(602.5)"><circle class="m3" r="11"/></g>
<g id="O23" transform="translate(629)"><circle class="e" r="10.2"/></g>
<g id="O24" transform="translate(655.6)"><circle class="e" r="10.2"/></g>
</g>
<g id="row-P" transform="translate(0 434.1)">
<g id="P1" transform="translate(44.5)"><circle class="w" r="11"/><text class="t" y="3.3">85</text></g>
<g id="P2" transform="translate(71.1)"><circle class="w" r="11"/><text class="t" y="3.3">85</text></g>
<g id="P3" transform="translate(97.6)"><circle class="w" r="11"/><text class="t" y="3.3">86</text></g>
<g id="P4" transform="translate(124.2)"><circle class="w" r="11"/><text class="t" y="3.3">86</text></g>
<g id="P5" transform="translate(150.8)"><circle class="w" r="11"/><text class="t" y="3.3">87</text></g>
<g id="P6" transform="translate(177.4)"><circle class="w" r="11"/><text class="t" y="3.3">87</text></g>
<g id="P7" transform="translate(203.9)"><circle class="w" r="11"/><text class="t" y="3.3">88</text></g>
<g id="P8" transform="translate(230.5)"><circle class="w" r="11"/><text class="t" y="3.3">88</text></g>
<g id="P9" transform="translate(257.1)"><circle class="w" r="11"/><text class="t" y="3.3">89</text></g>
<g id="P10" transform="translate(283.6)"><circle class="w" r="11"/><text class="t" y="3.3">89</text></g>
<g id="P11" transform="translate(310.2)"><circle class="w" r="11"/><text class="t" y="3.3">90</text></g>
<g id="P12" transform="translate(336.8)"><circle class="w" r="11"/><text class="t" y="3.3">90</text></g>
<g id="P13" transform="translate(363.3)"><circle class="d1" r="11"/></g>
<g id="P14" transform="translate(389.9)"><circle class="d1" r="11"/></g>
<g id="P15" transform="translate(416.5)"><circle class="m1" r="11"/></g>
<g id="P16" transform="translate(443.1)"><circle class="m1" r="11"/></g>
<g id="P17" transform="translate(469.6)"><circle class="d2" r="11"/></g>
<g id="P18" transform="translate(496.2)"><circle class="d2" r="11"/></g>
<g id="P19" transform="translate(522.8)"><circle class="m2" r="11"/></g>
<g id="P20" transform="translate(549.3)"><circle class="m2" r="11"/></g>
<g id="P21" transform="translate(575.9)"><circle class="m3" r="11"/></g>
<g id="P22" transform="translate(602.5)"><circle class="m3" r="11"/></g>
<g id="P23" transform="translate(629)"><circle class="e" r="10.2"/></g>
<g id="P24" transform="translate(655.6)"><circle class="e" r="10.2"/></g>
</g>
</svg>
